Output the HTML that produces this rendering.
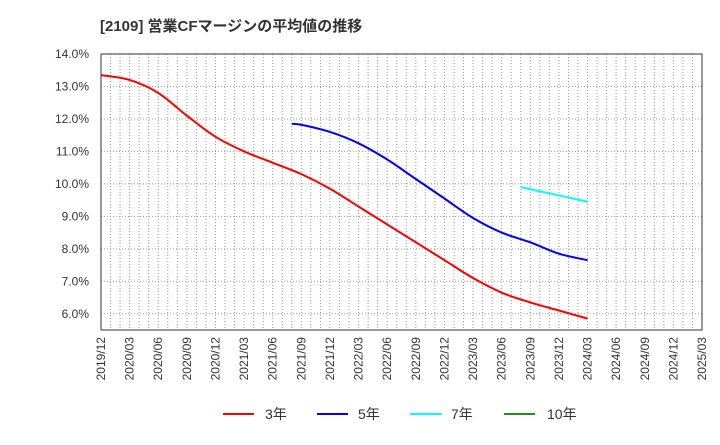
<!DOCTYPE html>
<html><head><meta charset="utf-8"><style>
body{margin:0;background:#fff;font-family:"Liberation Sans","Noto Sans CJK JP",sans-serif;}
</style></head><body>
<svg id="c" width="720" height="440" xmlns="http://www.w3.org/2000/svg">
<text x="100" y="31" font-size="15" font-weight="bold" fill="#333" font-family="Liberation Sans,Noto Sans CJK JP,sans-serif">[2109]  営業CFマージンの平均値の推移</text>
<g id="grid"></g><g id="axes"></g><g id="series"></g><g id="legend"></g>
</svg>
<script>
const months=["2019/12","2020/03","2020/06","2020/09","2020/12","2021/03","2021/06","2021/09","2021/12","2022/03","2022/06","2022/09","2022/12","2023/03","2023/06","2023/09","2023/12","2024/03","2024/06","2024/09","2024/12","2025/03"];
const yTicks=[6,7,8,9,10,11,12,13,14];
const s3Idx=[0,3,6,9,12,15,18,21,24,27,30,33,36,39,42,45,48,51];
const s3Val=[13.35,13.2,12.8,12.1,11.45,11.0,10.65,10.3,9.85,9.3,8.75,8.2,7.65,7.1,6.65,6.35,6.1,5.85];
const s5Idx=[20,21,24,27,30,33,36,39,42,45,48,51];
const s5Val=[11.85,11.82,11.6,11.25,10.75,10.15,9.55,8.95,8.5,8.2,7.85,7.65];
const s7Idx=[44,51];
const s7Val=[9.9,9.45];
const L=101,R=702,T=54,B=330,ymin=5.5,ymax=14;
const NS="http://www.w3.org/2000/svg";
const x=m=>L+(R-L)*m/63;
const y=v=>B-(B-T)*(v-ymin)/(ymax-ymin);
function mk(t,a,p){const e=document.createElementNS(NS,t);for(const k in a)e.setAttribute(k,a[k]);p.appendChild(e);return e;}
const g=document.getElementById('grid'),ax=document.getElementById('axes'),se=document.getElementById('series'),lg=document.getElementById('legend');
for(let m=1;m<63;m++){const l=mk('line',{x1:x(m),x2:x(m),y1:T,y2:B,stroke:'#999','stroke-dasharray':'1,2','stroke-width':1},g);

}
yTicks.forEach(v=>{const l=mk('line',{x1:L,x2:R,y1:y(v),y2:y(v),stroke:'#999','stroke-dasharray':'1,2'},g);


const t=mk('text',{x:89,y:y(v)+4,'text-anchor':'end','font-size':12,fill:'#333'},ax);t.textContent=v.toFixed(1)+'%';

});
const fr=mk('rect',{x:L,y:T,width:R-L,height:B-T,fill:'none',stroke:'#333'},ax);


months.forEach((mo,i)=>{const xx=x(i*3)+4;const t=mk('text',{x:xx,y:337,'font-size':12,fill:'#333','text-anchor':'end',transform:`rotate(-90 ${xx} 337)`},ax);t.textContent=mo;

});
function path(ix,vals,col,name){const p=ix.map((m,i)=>[x(m),y(vals[i])]);let d='M'+p[0][0]+','+p[0][1];
for(let i=0;i<p.length-1;i++){const p0=p[i-1]||p[i],p1=p[i],p2=p[i+1],p3=p[i+2]||p2;
d+=` C${p1[0]+(p2[0]-p0[0])/6},${p1[1]+(p2[1]-p0[1])/6} ${p2[0]-(p3[0]-p1[0])/6},${p2[1]-(p3[1]-p1[1])/6} ${p2[0]},${p2[1]}`;}
const e=mk('path',{d:d,fill:'none',stroke:col,'stroke-width':2},se);

}
path(s3Idx,s3Val,'#ff0000','series-3y');
path(s5Idx,s5Val,'#0000ff','series-5y');
path(s7Idx,s7Val,'#00ffff','series-7y');
[['3年','#ff0000',223,265],['5年','#0000ff',317,358],['7年','#00ffff',410,451],['10年','#228b22',504,547]].forEach(([n,c,lx,tx])=>{
const l=mk('line',{x1:lx,x2:lx+31,y1:414,y2:414,stroke:c,'stroke-width':2},lg);


const t=mk('text',{x:tx,y:419,'font-size':14,fill:'#333'},lg);t.textContent=n;

});
</script>
</body></html>
